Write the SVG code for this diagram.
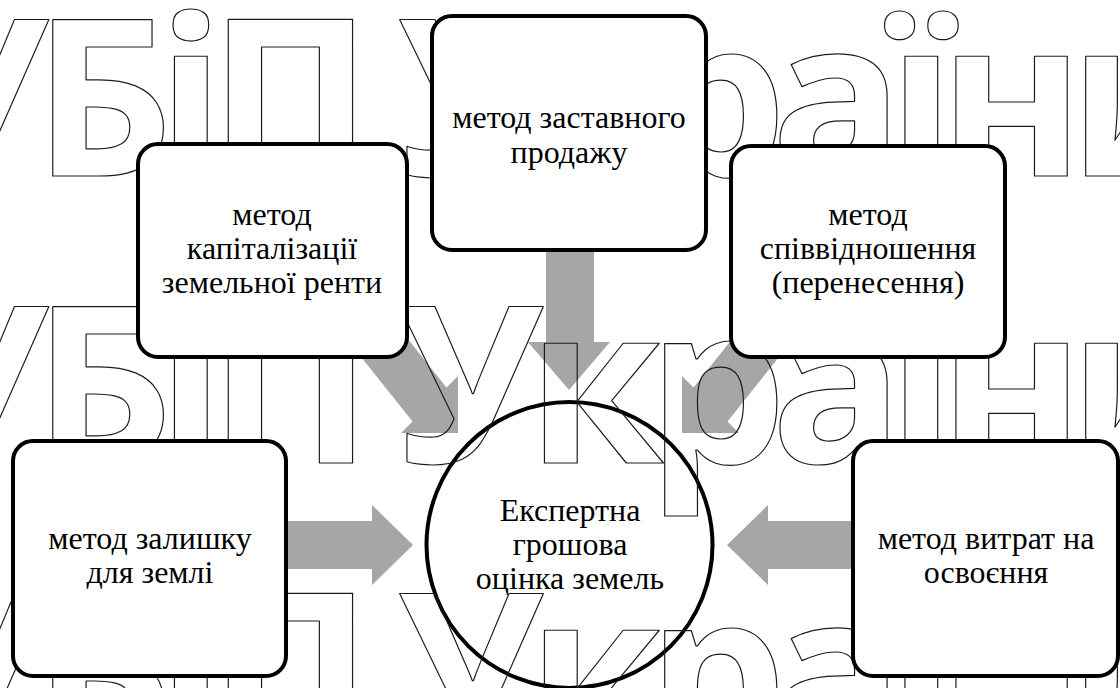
<svg xmlns="http://www.w3.org/2000/svg" width="1120" height="688" viewBox="0 0 1120 688">
<rect width="1120" height="688" fill="#fff"/>
<g id="connectors" fill="#a6a6a6">
  <polygon points="546,240 594,240 594,342 610,342 569,390 528,342 546,342"/>
  <polygon points="330,318 364,284 446.5,387.5 458,376 458,433 401,433 412.5,421.5"/>
  <polygon points="810,318 776,284 693.5,387.5 682,376 682,433 739,433 727.5,421.5"/>
  <polygon points="270,521 372,521 372,505 413,545 372,585 372,569 270,569"/>
  <polygon points="870,521 768,521 768,505 727,545 768,585 768,569 870,569"/>
</g>
<g id="center" font-family="Liberation Serif, serif" font-size="32" fill="#000" text-anchor="middle">
  <circle cx="569.5" cy="545" r="143" fill="#fff" stroke="#000" stroke-width="4"/>
  <text x="570" y="521">Експертна</text>
  <text x="570" y="555">грошова</text>
  <text x="570" y="589">оцінка земель</text>
</g>
<g id="watermark" font-family="Open Sans, sans-serif" font-weight="700" font-size="220" letter-spacing="-16" fill="none" stroke="#1a1a1a" stroke-width="1.2" stroke-linejoin="round">
  <text x="-97" y="176">УБіП України</text>
  <text x="-97" y="463">УБіП України</text>
  <text x="-97" y="750">УБіП України</text>
</g>
<g id="nodes" font-family="Liberation Serif, serif" font-size="32" fill="#000" text-anchor="middle">
<g id="n-zastav">
  <rect x="432" y="16" width="274" height="234" rx="20" fill="#fff" stroke="#000" stroke-width="4"/>
  <text x="569" y="128">метод заставного</text>
  <text x="569" y="163">продажу</text>
</g>
<g id="n-kapital">
  <rect x="138" y="144" width="269" height="213" rx="20" fill="#fff" stroke="#000" stroke-width="4"/>
  <text x="272" y="225">метод</text>
  <text x="272" y="259">капіталізації</text>
  <text x="272" y="293">земельної ренти</text>
</g>
<g id="n-spivvid">
  <rect x="731" y="146" width="274" height="211" rx="20" fill="#fff" stroke="#000" stroke-width="4"/>
  <text x="868" y="225">метод</text>
  <text x="868" y="259">співвідношення</text>
  <text x="868" y="293">(перенесення)</text>
</g>
<g id="n-zalyshok">
  <rect x="13" y="441" width="273" height="235" rx="20" fill="#fff" stroke="#000" stroke-width="4"/>
  <text x="150" y="549">метод залишку</text>
  <text x="150" y="583">для землі</text>
</g>
<g id="n-vytraty">
  <rect x="853" y="441" width="265" height="235" rx="20" fill="#fff" stroke="#000" stroke-width="4"/>
  <text x="986" y="549">метод витрат на</text>
  <text x="986" y="583">освоєння</text>
</g>
</g>
</svg>
